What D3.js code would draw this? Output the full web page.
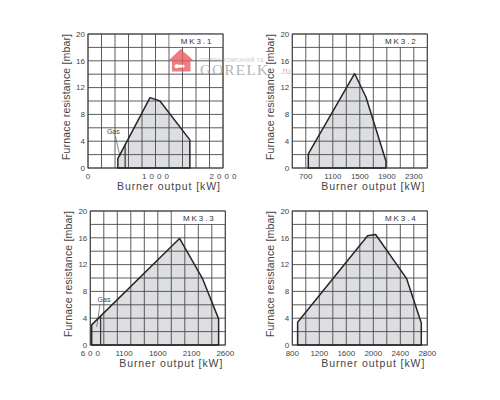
<html>
<head>
<title>MK3 working fields</title>
<style>
    body { margin: 0; background: #fff; }
    svg { display: block; font-family: "Liberation Sans", Arial, sans-serif; }
</style>
</head>
<body>
<script src="https://d3js.org/d3.v7.min.js"></script>
<script>
    // chart data
    var models = ["MK3.1", "MK3.2", "MK3.3", "MK3.4"];
    var xMin = [0, 500, 600, 800];
    var xMax = [2000, 2500, 2600, 2800];
    var xTickLabels = [
        [0, 1000, 2000],
        [700, 1100, 1500, 1900, 2300],
        [600, 1100, 1600, 2100, 2600],
        [800, 1200, 1600, 2000, 2400, 2800]
    ];
    var yTickLabels = [0, 4, 8, 12, 16, 20];

    // working field outline: burner output kW / furnace resistance mbar
    var outputKW = [
        [442, 442, 919, 1066, 1509, 1509],
        [737, 737, 1423, 1591, 1888, 1888],
        [620, 620, 1922, 2263, 2501, 2501],
        [879, 879, 1916, 2035, 2494, 2711, 2711]
    ];
    var resistanceMbar = [
        [0, 1.4, 10.5, 10.0, 4.2, 0],
        [0, 2.1, 14.1, 10.6, 1.0, 0],
        [0, 3.0, 15.9, 9.9, 3.9, 0],
        [0, 3.4, 16.3, 16.5, 9.9, 3.3, 0]
    ];

    // gas minimum line (only MK3.1 and MK3.3)
    var gasKW = [550, null, 753, null];
    var gasMbar = [3.5, null, 4.3, null];
    // "Gas" label and its pointer, in data units
    var gasLabelAt = [[375, 5.05], null, [803, 6.45], null];
    var gasPointer = [[[407, 4.7], [474, 1.7]], null, [[744, 6.1], [695, 2.7]], null];

    var w = 500, h = 400;
    var pw = 135, ph = 134;
    var origins = [[88, 34], [292.3, 34], [90.3, 211], [292.3, 211]];
    // letter spacing of each x tick label (the reference spaces some of them out)
    var tickSpacing = [[3, 3, 3], [0, 0, 0, 0, 0], [3, 0, 0, 0, 0], [0, 0, 0, 0, 0, 0]];

    var svg = d3.select('body').append('svg').attr('width', w).attr('height', h);

    function drawPanel(i) {
        var ox = origins[i][0], oy = origins[i][1];
        var g = svg.append('g').attr('transform', 'translate(' + ox + ',' + oy + ')');

        var x = d3.scaleLinear().domain([xMin[i], xMax[i]]).range([0, pw]);
        var y = d3.scaleLinear().domain([0, 20]).range([ph, 0]);

        // field
        var pts = outputKW[i].map(function (d, k) { return [x(d), y(resistanceMbar[i][k])]; });
        g.append('polygon')
            .attr('points', pts.map(function (p) { return p.join(','); }).join(' '))
            .attr('fill', '#dddee2');

        // grid
        g.selectAll('line.vx').data(d3.range(xMin[i], xMax[i] + 1, 200)).enter()
            .append('line').attr('class', 'vx')
            .attr('x1', function (d) { return x(d); }).attr('x2', function (d) { return x(d); })
            .attr('y1', 0).attr('y2', ph)
            .attr('stroke', '#4a4a4a').attr('stroke-width', 0.9);
        g.selectAll('line.hy').data(d3.range(0, 21, 2)).enter()
            .append('line').attr('class', 'hy')
            .attr('x1', 0).attr('x2', pw)
            .attr('y1', function (d) { return y(d); }).attr('y2', function (d) { return y(d); })
            .attr('stroke', '#4a4a4a').attr('stroke-width', 0.9);

        // model box in the top row
        g.append('rect')
            .attr('x', x(xMax[i] - 800) + 0.6).attr('y', 0.5)
            .attr('width', pw - x(xMax[i] - 800) - 1.1).attr('height', y(18) - 1)
            .attr('fill', '#fff');
        g.append('text')
            .attr('x', (x(xMax[i] - 800) + pw) / 2 + 1).attr('y', y(19) + 3)
            .attr('text-anchor', 'middle')
            .style('font-size', '8px').style('letter-spacing', '1.9px')
            .attr('fill', '#333')
            .text(models[i]);

        g.append('rect').attr('x', 0).attr('y', 0).attr('width', pw).attr('height', ph)
            .attr('fill', 'none').attr('stroke', '#444').attr('stroke-width', 1);

        // gas line + label
        if (gasKW[i] !== null) {
            g.append('line')
                .attr('x1', x(gasKW[i])).attr('x2', x(gasKW[i]))
                .attr('y1', y(0)).attr('y2', y(gasMbar[i]))
                .attr('stroke', '#333').attr('stroke-width', 1.2);
            g.append('line')
                .attr('x1', x(gasPointer[i][0][0])).attr('y1', y(gasPointer[i][0][1]))
                .attr('x2', x(gasPointer[i][1][0])).attr('y2', y(gasPointer[i][1][1]))
                .attr('stroke', '#555').attr('stroke-width', 0.7);
            g.append('text')
                .attr('x', x(gasLabelAt[i][0])).attr('y', y(gasLabelAt[i][1]))
                .attr('text-anchor', 'middle')
                .style('font-size', '7px').attr('fill', '#444')
                .text('Gas');
        }

        // outline
        g.append('polygon')
            .attr('points', pts.map(function (p) { return p.join(','); }).join(' '))
            .attr('fill', 'none').attr('stroke', '#262626').attr('stroke-width', 1.5)
            .attr('stroke-linejoin', 'round');

        // ticks
        g.selectAll('text.xt').data(xTickLabels[i]).enter()
            .append('text').attr('class', 'xt')
            .attr('x', function (d, k) { return x(d) + tickSpacing[i][k] / 2; })
            .attr('y', ph + 10.8)
            .attr('text-anchor', 'middle')
            .style('font-size', '8px')
            .style('letter-spacing', function (d, k) { return tickSpacing[i][k] + 'px'; })
            .attr('fill', '#444')
            .text(function (d) { return d; });
        g.selectAll('text.yt').data(yTickLabels).enter()
            .append('text').attr('class', 'yt')
            .attr('x', -3).attr('y', function (d) { return y(d) + 2.8; })
            .attr('text-anchor', 'end')
            .style('font-size', '8px')
            .attr('fill', '#444')
            .text(function (d) { return d; });

        // axis titles
        g.append('text')
            .attr('x', pw - 106).attr('y', ph + 22.3)
            .attr('textLength', 103).attr('lengthAdjust', 'spacing')
            .style('font-size', '10.5px').attr('fill', '#444')
            .text('Burner output [kW]');
        g.append('text')
            .attr('transform', 'translate(-18,' + (ph - 8) + ') rotate(-90)')
            .attr('textLength', 126).attr('lengthAdjust', 'spacing')
            .style('font-size', '10.5px').attr('fill', '#444')
            .text('Furnace resistance [mbar]');
    }

    function drawWatermark() {
        var wm = svg.append('g').attr('opacity', 0.8);
        wm.append('path')
            .attr('d', 'M169,60 L180.7,49 L193,60 L190.5,60 L190.5,71.5 L172,71.5 L172,60 Z')
            .attr('fill', '#ec5c62');
        wm.append('rect').attr('x', 175.5).attr('y', 64.8).attr('width', 9).attr('height', 2.8)
            .attr('rx', 1).attr('fill', '#fff');
        wm.append('circle').attr('cx', 176.5).attr('cy', 66.2).attr('r', 2).attr('fill', '#fff');
        wm.append('text')
            .attr('x', 199.5).attr('y', 61.5)
            .attr('textLength', 64).attr('lengthAdjust', 'spacing')
            .style('font-size', '4.6px')
            .attr('fill', '#b5b5b5')
            .text('ГРУППА КОМПАНИЙ ТЕ');
        wm.append('text')
            .attr('x', 200).attr('y', 74.5)
            .style('font-family', '"Liberation Serif", "DejaVu Serif", serif')
            .style('font-size', '15px').style('letter-spacing', '1.4px')
            .attr('fill', '#a3a3a3')
            .text('GORELK');
        wm.append('text')
            .attr('x', 280.5).attr('y', 73.5)
            .style('font-size', '8.5px')
            .attr('fill', '#ec8f93')
            .text('.ru');
    }

    drawPanel(0);
    drawWatermark();
    drawPanel(1);
    drawPanel(2);
    drawPanel(3);
</script>
</body>
</html>
